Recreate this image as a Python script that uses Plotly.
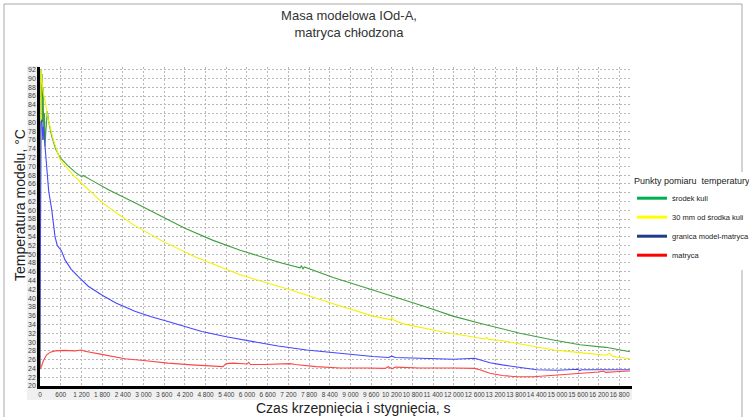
import plotly.graph_objects as go

# ---------------- data ----------------
t_green = [0, 15, 30, 45, 60, 75, 90, 110, 130, 145, 170, 212, 255, 340, 450, 580, 800, 1000,
           1210, 1250, 1500, 2000, 2750, 3500, 4200, 5000, 5800, 6500, 7000, 7540, 7580, 7620,
           7660, 8500, 9650, 10630, 11300, 11970, 12750, 13040, 13910, 14800, 15650, 16400, 16800, 17100]
v_green = [24, 60, 92, 86, 91, 80, 88, 76, 82, 74.5, 78, 82.5, 80, 76.8, 74, 72, 70.2, 68.8,
           67.6, 67.9, 66.8, 64.6, 61.7, 58.6, 55.9, 53.2, 50.9, 49.2, 48.0, 46.9, 47.4, 46.6,
           47.1, 44.7, 41.9, 39.4, 37.7, 35.9, 34.3, 33.7, 32.0, 30.6, 29.4, 28.8, 28.3, 27.8]

t_yellow = [0, 15, 30, 50, 90, 145, 240, 386, 580, 800, 1000, 1200, 1500, 1800, 2200, 2750, 3500,
            4490, 5800, 7250, 8500, 9650, 10150, 10200, 10250, 10500, 11600, 12300, 12900, 12950,
            13000, 13400, 14200, 14900, 15650, 16400, 16500, 16600, 16700, 17100]
v_yellow = [24, 70, 92, 90, 87, 85, 80.6, 76, 71.5, 69.5, 67.7, 66.2, 63.9, 61.8, 59.5, 56.5, 53.2,
            49.4, 45.3, 41.9, 38.7, 35.9, 35.1, 35.6, 35.0, 34.2, 32.4, 31.5, 30.7, 31.1,
            30.6, 30.3, 29.1, 28.2, 27.6, 27.0, 27.4, 26.8, 26.6, 26.2]

t_blue = [0, 10, 25, 55, 80, 100, 145, 200, 250, 340, 435, 500, 580, 620, 725, 900, 1110, 1400,
          1790, 2200, 2750, 3200, 3710, 4200, 4690, 5400, 6140, 6900, 7730, 8700, 9650, 10100,
          10200, 10300, 11000, 11790, 12000, 12600, 12750, 13040, 13400, 13720, 14100, 14400,
          15000, 15600, 15650, 15700, 16500, 17100]
v_blue = [24, 50, 80, 80.6, 76, 79, 74.5, 68, 64.5, 60.1, 54, 52, 51.2, 50.8, 48.7, 46.6, 44.9, 42.7,
          40.7, 38.9, 37.0, 35.8, 34.7, 33.5, 32.4, 31.2, 30.1, 29.1, 28.2, 27.4, 26.7, 26.5,
          26.8, 26.5, 26.3, 26.1, 26.1, 26.3, 26.0, 25.3, 24.8, 24.4, 24.0, 23.7,
          23.6, 23.8, 23.5, 23.7, 23.7, 23.7]

t_red = [0, 50, 100, 194, 300, 435, 700, 1015, 1200, 1300, 1790, 2460, 3000, 3710, 4400, 5070,
         5300, 5400, 5600, 6000, 6050, 6100, 6500, 7250, 7400, 8000, 8700, 9500, 10000, 10100,
         10200, 10300, 11000, 12000, 12600, 12750, 13040, 13400, 13820, 14300, 14690, 15200,
         15650, 16000, 16200, 16330, 16400, 16800, 17100]
v_red = [23.8, 24.6, 25.8, 27.1, 27.7, 28.0, 28.1, 28.0, 28.2, 27.9, 27.2, 26.2, 25.8, 25.2, 24.8, 24.5,
         24.4, 25.1, 25.2, 25.0, 25.4, 24.9, 24.9, 25.1, 24.9, 24.4, 24.1, 24.1, 24.0, 24.4,
         23.9, 24.3, 24.1, 24.1, 24.0, 23.7, 22.9, 22.4, 22.1, 22.1, 22.3, 22.6,
         22.8, 23.1, 23.2, 23.4, 23.1, 23.3, 23.4]

series_names = ["środek kuli", "30 mm od środka kuli", "granica model-matryca", "matryca"]
line_colors = ["#3f9f3f", "#f2f200", "#4646ff", "#ff4545"]
legend_colors = ["#00b050", "#ffff00", "#1f3c88", "#ff0000"]

title_text = "Masa modelowa IOd-A,<br>matryca chłodzona"
x_title = "Czas krzepnięcia i stygnięcia, s"
y_title = "Temperatura modelu, °C"
legend_title = "Punkty pomiaru  temperatury"

# ---------------- figure ----------------
W, H = 749, 417
L, R, T, B = 40, 117, 67, 31
pw, ph = W - L - R, H - T - B

def px(x):
    return (x - L) / pw

def py(y):
    return (H - B - y) / ph

fig = go.Figure()
data = [(t_green, v_green), (t_yellow, v_yellow), (t_blue, v_blue), (t_red, v_red)]
for (tt, vv), c, n in zip(data, line_colors, series_names):
    fig.add_trace(go.Scatter(x=tt, y=vv, mode="lines", name=n, showlegend=False,
                             line=dict(color=c, width=1.1)))
for c, n in zip(legend_colors, series_names):
    fig.add_trace(go.Scatter(x=[None], y=[None], mode="lines", name=n, showlegend=True,
                             line=dict(color=c, width=3)))

FONT = "Liberation Sans, Arial, sans-serif"
shapes = [
    # light grey label strips
    dict(type="rect", xref="paper", yref="paper", x0=px(27), x1=1.0, y0=py(400), y1=py(386),
         fillcolor="#f0f0f0", line=dict(width=0), layer="below"),
    dict(type="rect", xref="paper", yref="paper", x0=px(27), x1=px(39), y0=py(400), y1=py(66),
         fillcolor="#f0f0f0", line=dict(width=0), layer="below"),
    # outer frame
    dict(type="line", xref="paper", yref="paper", x0=px(4), x1=px(4), y0=py(417), y1=py(4),
         line=dict(color="#a8a8a8", width=1), layer="below"),
    dict(type="line", xref="paper", yref="paper", x0=px(4), x1=px(742), y0=py(4), y1=py(4),
         line=dict(color="#a8a8a8", width=1), layer="below"),
    dict(type="line", xref="paper", yref="paper", x0=px(742), x1=px(742), y0=py(417), y1=py(4),
         line=dict(color="#a8a8a8", width=1), layer="below"),
]

fig.update_layout(
    width=W, height=H,
    margin=dict(l=L, r=R, t=T, b=B, autoexpand=False),
    paper_bgcolor="white", plot_bgcolor="white",
    font=dict(family=FONT, color="#333333"),
    separators=". ",
    title=dict(text=title_text, x=349 / W, xref="container", xanchor="center",
               y=1 - 20 / H, yref="container", yanchor="top",
               font=dict(size=13, color="#333333", family=FONT)),
    xaxis=dict(range=[0, 17160], tickmode="linear", tick0=0, dtick=600,
               separatethousands=True, tickformat=",d", tickangle=0,
               showgrid=True, gridcolor="#b8b8b8", griddash="2px,2px", gridwidth=1,
               showline=True, linecolor="black", linewidth=2.5, zeroline=False,
               ticks="", tickfont=dict(size=6.5, color="#404040"), automargin=False),
    yaxis=dict(range=[20, 92.6], tickmode="linear", tick0=20, dtick=2,
               showgrid=True, gridcolor="#b8b8b8", griddash="2px,2px", gridwidth=1,
               showline=True, linecolor="black", linewidth=2.5, zeroline=False,
               ticks="", tickfont=dict(size=7, color="#404040"), automargin=False),
    legend=dict(x=1.0, xanchor="left", y=py(172), yanchor="top",
                bgcolor="white", borderwidth=0,
                title=dict(text=legend_title, font=dict(size=9, color="#222222")),
                font=dict(size=7.5, color="#222222"), itemwidth=30, tracegroupgap=0),
    shapes=shapes,
    annotations=[
        dict(text=y_title, xref="paper", yref="paper", x=px(20), y=py(205),
             textangle=-90, showarrow=False, xanchor="center", yanchor="middle",
             font=dict(size=14, color="#222222", family=FONT)),
        dict(text=x_title, xref="paper", yref="paper", x=px(353), y=py(408),
             showarrow=False, xanchor="center", yanchor="middle",
             font=dict(size=14, color="#222222", family=FONT)),
    ],
)

fig.write_html("out.html")
